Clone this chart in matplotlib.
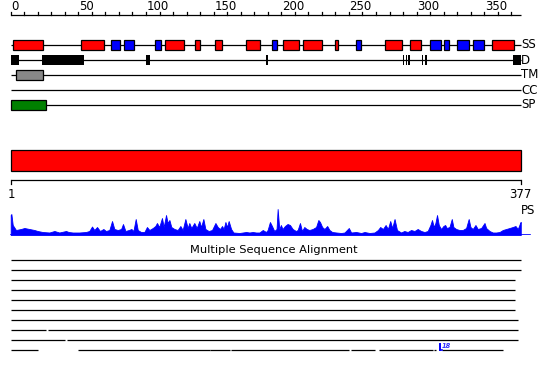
import matplotlib
matplotlib.use('Agg')
import matplotlib.pyplot as plt
from matplotlib.patches import Rectangle

# ---------------- data ----------------
seq_len = 377
ruler_ticks = list(range(0, 371, 10))
ruler_labels = list(range(0, 351, 50))

track_names = ['SS', 'D', 'TM', 'CC', 'SP']

ss_helix = [(3, 24), (53, 69), (115, 128), (137, 140), (152, 156), (175, 184),
            (202, 213), (217, 230), (241, 242), (278, 289), (296, 303), (357, 372)]
ss_strand = [(75, 81), (85, 91), (108, 111), (194, 197), (256, 259),
             (311, 318), (321, 324), (331, 339), (343, 350)]
disorder = [(1, 6), (24, 54), (101, 103), (190, 190), (291, 291), (293, 293),
            (295, 295), (305, 305), (307, 308), (372, 377)]
transmem = [(5, 24)]
coiled = []
signal = [(1, 26)]

domain = [(1, 377)]

ps_pos = [0, 0.5, 1.5, 3.9, 7.6, 10.1, 13.8, 17.5, 19.9, 23.6, 28.6, 32.3, 35.9, 40.9, 42.8,
          45.8, 50.7, 55.6, 58.1, 60.1, 61.8, 63.8, 66.0, 68.5, 70.4, 72.9, 74.9, 76.6, 79.1,
          81.6, 83.0, 84.8, 87.3, 89.2, 90.7, 92.4, 93.9, 96.3, 98.8, 100.7, 102.5, 105.0,
          106.9, 108.1, 109.8, 111.8, 113.1, 114.8, 116.0, 117.3, 118.7, 121.0, 123.4, 125.4,
          127.1, 129.1, 130.8, 132.0, 133.5, 135.7, 137.5, 139.4, 140.7, 142.4, 143.9, 146.3,
          148.8, 151.3, 153.0, 154.7, 156.2, 157.4, 158.7, 159.9, 161.1, 162.9, 164.6, 169.0,
          174.0, 176.4, 178.9, 181.3, 183.8, 186.3, 188.7, 189.9, 191.6, 193.1, 194.8, 196.5,
          197.3, 198.5, 199.7, 200.9, 202.7, 204.6, 206.4, 208.4, 210.8, 212.1, 213.8, 215.3,
          217.0, 218.8, 220.7, 223.2, 225.7, 227.4, 228.6, 230.2, 231.9, 233.9, 235.6, 237.6,
          240.6, 244.2, 246.7, 249.9, 251.6, 255.3, 259.0, 261.5, 265.2, 268.9, 271.4, 273.1,
          275.1, 277.1, 278.8, 280.5, 282.0, 283.7, 285.5, 288.5, 290.9, 293.4, 295.9, 298.4,
          300.8, 303.3, 305.8, 308.2, 310.2, 311.4, 312.7, 313.9, 315.1, 316.4, 318.1, 319.8,
          321.1, 322.3, 324.3, 326.0, 327.2, 329.2, 331.7, 334.1, 336.6, 338.5, 339.8, 341.5,
          343.5, 345.2, 347.7, 350.2, 351.4, 353.9, 356.3, 358.8, 361.3, 363.7, 366.2, 368.7,
          371.1, 373.1, 374.8, 376.8, 377.0]
ps_val = [20, 21, 10, 5, 6, 7, 6, 5, 4, 3, 2.5, 4, 2.5, 4, 3,
          2.5, 2.5, 3, 4, 8.5, 5, 8, 4, 6, 4, 5, 14, 6, 5,
          6, 11, 4, 5, 6, 4, 16, 5, 3, 3, 8, 5, 7,
          9, 12, 8, 17, 8, 20, 12, 15, 8, 6, 5, 9,
          5, 16, 7, 12, 7, 12, 7, 14, 8, 16, 6, 4,
          5, 12, 8, 6, 9, 6, 13, 8, 14, 6, 2.5, 2,
          3, 2.5, 3, 2.5, 2.5, 5, 3, 5, 13, 9, 4, 6,
          26, 6, 10, 6, 9, 11, 10, 6, 4, 5, 12, 4,
          8, 6, 5, 6, 8, 15, 13, 8, 6, 9, 5, 3,
          2.5, 2, 2.5, 7, 2.5, 3, 2, 3, 2, 2.5, 5, 8,
          6, 10, 6, 14, 7, 16, 5, 2.5, 4, 3, 5, 4,
          6, 4, 3, 4, 10, 15, 8, 12, 20, 10, 6, 9,
          10, 7, 8, 16, 8, 6, 5, 5, 7, 16, 8, 6,
          10, 6, 7, 12, 7, 4, 2.5, 2.5, 3, 5, 6, 7,
          8, 9, 6, 13, 13]

msa_rows = [
    [(1, 377)],
    [(1, 377)],
    [(1, 373)],
    [(1, 373)],
    [(1, 373)],
    [(1, 373)],
    [(1, 375)],
    [(1, 26), (28, 375)],
    [(1, 40), (42, 375)],
    [(1, 20), (50, 147), (148, 162), (163, 250), (252, 269), (273, 312), (313, 314), (319, 364)],
]
msa_marker_pos = 318
msa_marker_label = '18'
msa_title = 'Multiple Sequence Alignment'

# ---------------- layout ----------------
PX = 1.353            # pixels per residue
X_OFF = 10.7          # pixel of residue position 0
W, H = 550, 380
xmin = -X_OFF / PX
xmax = (W - X_OFF) / PX

fig = plt.figure(figsize=(W / 100, H / 100), dpi=100)
ax = fig.add_axes([0, 0, 1, 1])
ax.set_xlim(xmin, xmax)
ax.set_ylim(H, 0)
ax.axis('off')

FS = 8.5
LW = 0.9

# ruler
ruler_y = 15
ax.plot([0, seq_len], [ruler_y, ruler_y], color='black', lw=LW, solid_capstyle='butt')
for t in ruler_ticks:
    ax.plot([t, t], [ruler_y, ruler_y - 3.5], color='black', lw=LW)
for t in ruler_labels:
    ax.text(t + 0.4, 10.5, str(t), fontsize=FS, ha='left', va='baseline', color='black')

# tracks
track_y = [45, 60, 75, 90, 105]
box_h = 10
for name, y in zip(track_names, track_y):
    ax.plot([0, seq_len], [y, y], color='black', lw=LW, solid_capstyle='butt', zorder=1)
    ax.text(seq_len + 0.3, y, name, fontsize=FS, ha='left', va='center', color='black')


def boxes(segs, y, face, edge='black', lw=LW):
    for s, e in segs:
        ax.add_patch(Rectangle((s - 1, y - box_h / 2), e - s + 1, box_h,
                               facecolor=face, edgecolor=edge, lw=lw, zorder=3))


boxes(ss_helix, track_y[0], '#ff0000')
boxes(ss_strand, track_y[0], '#0000ff')
boxes(disorder, track_y[1], 'black', edge='none', lw=0)
boxes(transmem, track_y[2], '#888888')
boxes(coiled, track_y[3], '#888888')
boxes(signal, track_y[4], '#008000')

# domain bar
for s, e in domain:
    ax.add_patch(Rectangle((s - 1, 150), e - s + 1, 20.5, facecolor='#ff0000',
                           edgecolor='black', lw=LW, zorder=3))

# bottom axis
ax.plot([0, seq_len], [180, 180], color='black', lw=LW, solid_capstyle='butt')
ax.plot([0, 0], [180, 184], color='black', lw=LW)
ax.plot([seq_len, seq_len], [180, 184], color='black', lw=LW)
ax.text(0.5, 195, '1', fontsize=FS, ha='center', va='center')
ax.text(seq_len, 195, str(seq_len), fontsize=FS, ha='center', va='center')
ax.text(seq_len + 0.3, 210.5, 'PS', fontsize=FS, ha='left', va='center')

# MSA
ax.text(194.5, 250, msa_title, fontsize=8.2, ha='center', va='center')
for i, row in enumerate(msa_rows):
    y = 260 + 10 * i
    for s, e in row:
        ax.plot([s - 0.5, e], [y, y], color='black', lw=LW, solid_capstyle='butt')
y_last = 260 + 10 * (len(msa_rows) - 1)
ax.plot([msa_marker_pos - 0.7, msa_marker_pos - 0.7], [y_last - 6.5, y_last], color='#0000ff', lw=1.4)
ax.plot([msa_marker_pos - 0.7, msa_marker_pos + 0.5], [y_last, y_last], color='#0000ff', lw=1.2)
ax.text(msa_marker_pos + 0.6, y_last - 4.5, msa_marker_label, fontsize=4.8, color='#3333ff',
        ha='left', va='center', fontweight='bold', style='italic')

# PS profile
ax2 = fig.add_axes([0, (H - 235) / H, 1, 30 / H])
ax2.set_xlim(xmin, xmax)
ax2.set_ylim(0, 30)
ax2.axis('off')
ax2.fill_between(ps_pos, 0, ps_val, color='#0000ff', lw=0.6)
ax2.plot([0, seq_len + 7], [0.4, 0.4], color='#0000ff', lw=1.2)

fig.savefig('out.png', dpi=100)
